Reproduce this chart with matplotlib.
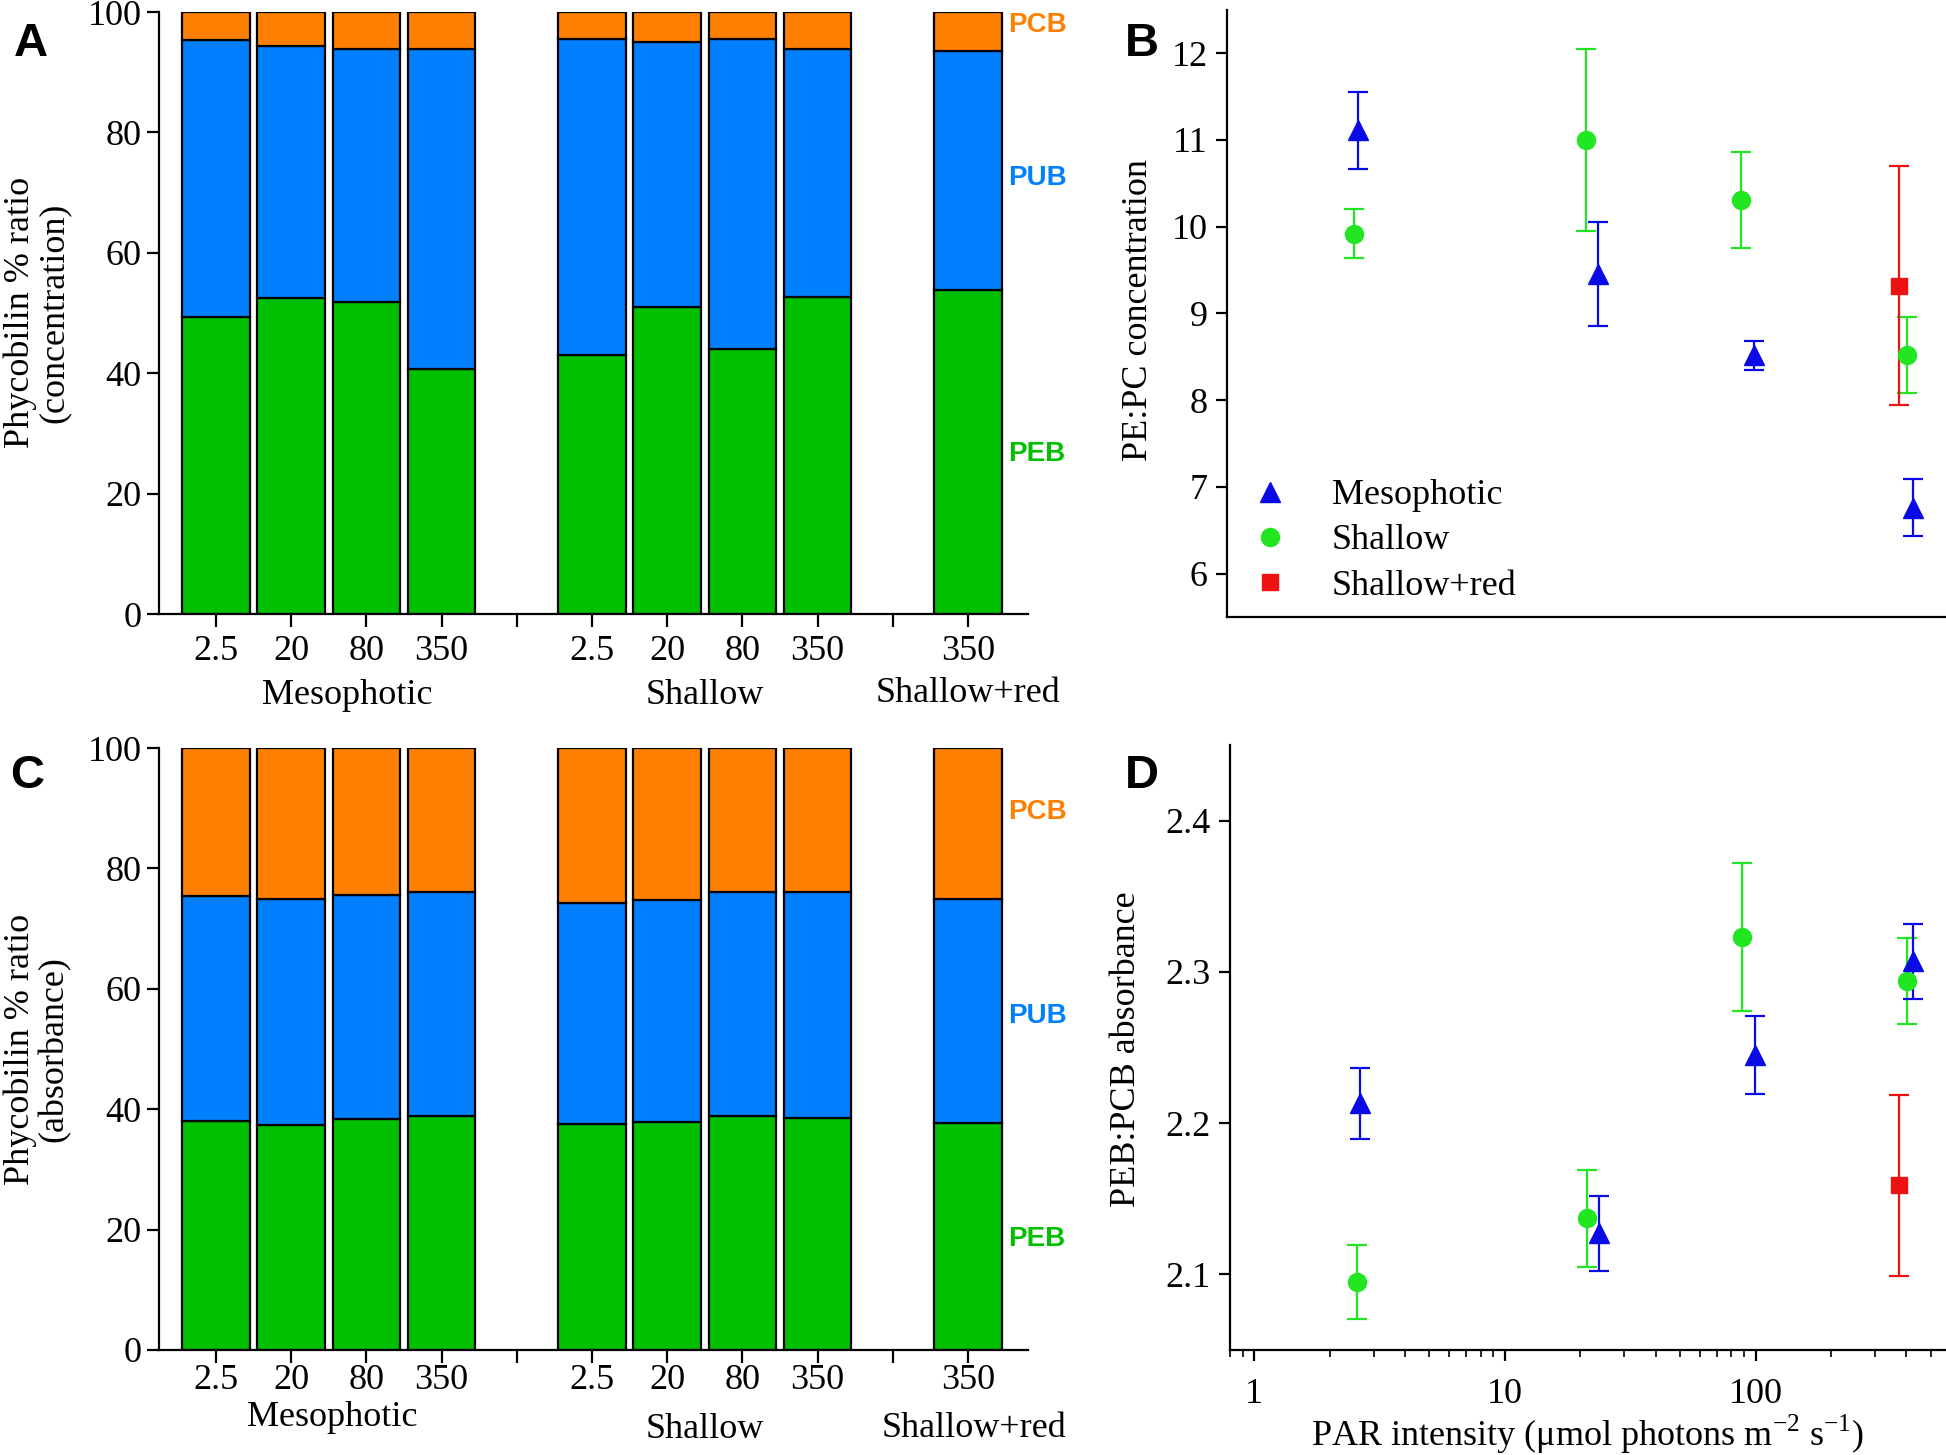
import matplotlib
matplotlib.use("Agg")
import matplotlib.pyplot as plt
import numpy as np

plt.rcParams['font.family'] = ['Liberation Serif', 'DejaVu Serif']
plt.rcParams['mathtext.fontset'] = 'custom'
plt.rcParams['mathtext.rm'] = 'Liberation Serif'

# bar panels: PEB, PUB, PCB percentages
bar_labels = ['2.5', '20', '80', '350', '2.5', '20', '80', '350', '350']
bar_pos = [0, 1, 2, 3, 5, 6, 7, 8, 10]
sep_pos = [4, 9]
groups = ['Mesophotic', 'Shallow', 'Shallow+red']

peb_conc = [49.3, 52.5, 51.9, 40.7, 43.0, 51.0, 44.1, 52.6, 53.9]
pub_conc = [46.1, 41.9, 41.9, 53.1, 52.5, 44.1, 51.4, 41.2, 39.6]
peb_abs = [38.0, 37.4, 38.4, 38.8, 37.5, 37.8, 38.8, 38.6, 37.7]
pub_abs = [37.4, 37.5, 37.2, 37.2, 36.8, 36.9, 37.3, 37.4, 37.2]

# scatter panels (x = PAR intensity, slightly offset per series)
meso_x = [2.65, 23.8, 99.5, 425]
shal_x = [2.56, 21.3, 87.9, 401]
red_x = [375]

meso_b = [11.11, 9.455, 8.515, 6.76]
meso_b_err = [0.44, 0.60, 0.17, 0.33]
shal_b = [9.92, 11.0, 10.31, 8.52]
shal_b_err = [0.28, 1.05, 0.55, 0.44]
red_b = [9.32]
red_b_err = [1.38]

meso_d = [2.213, 2.127, 2.245, 2.307]
meso_d_err = [0.0234, 0.0245, 0.0259, 0.0248]
shal_d = [2.095, 2.137, 2.323, 2.294]
shal_d_err = [0.0245, 0.0322, 0.0487, 0.0285]
red_d = [2.159]
red_d_err = [0.0598]

c_peb = '#00C000'
c_pub = '#0080FF'
c_pcb = '#FF8000'
c_meso = '#0A0AE6'
c_shal = '#22E622'
c_red = '#EE1111'

FS = 26

fig = plt.figure(figsize=(19.46, 14.55), dpi=100)
axA = fig.add_axes([0.0817, 0.578, 0.4466, 0.4137])
axC = fig.add_axes([0.0817, 0.0722, 0.4466, 0.4137])
axB = fig.add_axes([0.6305, 0.576, 0.3695, 0.4172])
axD = fig.add_axes([0.632, 0.0722, 0.368, 0.4158])


def bar_panel(ax, peb, pub, lab_y, grp_y, tpad):
    peb = np.array(peb)
    pub = np.array(pub)
    pcb = 100 - peb - pub
    kw = dict(width=0.9, edgecolor='black', linewidth=1.6)
    ax.bar(bar_pos, peb, color=c_peb, **kw)
    ax.bar(bar_pos, pub, bottom=peb, color=c_pub, **kw)
    ax.bar(bar_pos, pcb, bottom=peb + pub, color=c_pcb, **kw)
    ax.set_xlim(-0.76, 10.8)
    ax.set_ylim(0, 100)
    ax.set_yticks([0, 20, 40, 60, 80, 100])
    ax.set_xticks(bar_pos + sep_pos)
    ax.set_xticklabels(bar_labels + ['', ''])
    for s in ['top', 'right']:
        ax.spines[s].set_visible(False)
    for s in ['left', 'bottom']:
        ax.spines[s].set_linewidth(1.6)
    ax.tick_params(labelsize=FS, width=1.6, length=9)
    ax.tick_params(axis='x', pad=tpad)
    tr = ax.get_xaxis_transform()
    for (gx, gy), g in zip(grp_y, groups):
        ax.text(gx, gy, g, transform=tr, ha='center', va='center', fontsize=FS)
    for (ly, t, c) in zip(lab_y, ['PCB', 'PUB', 'PEB'], [c_pcb, c_pub, c_peb]):
        ax.text(10.92, ly, t, ha='center', va='center', color=c, fontsize=20,
                fontweight='bold', family='Liberation Sans')


bar_panel(axA, peb_conc, pub_conc, [97.9, 72.4, 26.6],
          [(1.75, -0.135), (6.5, -0.135), (10.0, -0.132)], 6)
bar_panel(axC, peb_abs, pub_abs, [89.3, 55.5, 18.4],
          [(1.55, -0.112), (6.5, -0.132), (10.08, -0.130)], 1)

ebkw = dict(linestyle='none', capsize=7, elinewidth=1.6, capthick=1.6)
for ax, mb, me, sb, se, rb, re_ in [(axB, meso_b, meso_b_err, shal_b, shal_b_err, red_b, red_b_err),
                                    (axD, meso_d, meso_d_err, shal_d, shal_d_err, red_d, red_d_err)]:
    ax.errorbar(shal_x, sb, yerr=se, marker='o', ms=13, color=c_shal, **ebkw)
    ax.errorbar(red_x, rb, yerr=re_, marker='s', ms=11, color=c_red, **ebkw)
    ax.errorbar(meso_x, mb, yerr=me, marker='^', ms=14, color=c_meso, **ebkw)
    ax.set_xscale('log')
    ax.set_xlim(0.8, 575)
    for s in ['top', 'right']:
        ax.spines[s].set_visible(False)
    for s in ['left', 'bottom']:
        ax.spines[s].set_linewidth(1.6)
    ax.tick_params(axis='y', labelsize=FS, width=1.6, length=8, pad=6)

axB.set_ylim(5.5, 12.5)
axB.set_yticks([6, 7, 8, 9, 10, 11, 12])
axB.tick_params(axis='x', which='both', bottom=False, labelbottom=False)

axD.set_ylim(2.05, 2.45)
axD.set_yticks([2.1, 2.2, 2.3, 2.4])
axD.set_xticks([1, 10, 100])
axD.set_xticklabels(['1', '10', '100'])
axD.tick_params(axis='x', which='major', labelsize=FS, width=1.6, length=8, pad=12)
axD.tick_params(axis='x', which='minor', width=1.2, length=5)

h1, = axB.plot([], [], '^', ms=14, color=c_meso)
h2, = axB.plot([], [], 'o', ms=13, color=c_shal)
h3, = axB.plot([], [], 's', ms=11, color=c_red)
axB.legend([h1, h2, h3], ['Mesophotic', 'Shallow', 'Shallow+red'], loc='lower left',
           bbox_to_anchor=(0.0, -0.018), frameon=False, fontsize=FS, handlelength=1.0,
           handletextpad=1.2, labelspacing=0.33, borderpad=0.2)

fig.text(0.019, 0.785, 'Phycobilin % ratio\n(concentration)', rotation=90, ha='center',
         va='center', fontsize=FS, linespacing=1.0)
fig.text(0.019, 0.279, 'Phycobilin % ratio\n(absorbance)', rotation=90, ha='center',
         va='center', fontsize=FS, linespacing=1.0)
fig.text(0.585, 0.787, 'PE:PC concentration', rotation=90, ha='center', va='center', fontsize=FS)
fig.text(0.579, 0.279, 'PEB:PCB absorbance', rotation=90, ha='center', va='center', fontsize=FS)
fig.text(0.816, 0.014, 'PAR intensity (μmol photons m$^{-2}$ s$^{-1}$)', ha='center',
         va='center', fontsize=FS)

for t, x, y in [('A', 0.016, 0.970), ('B', 0.587, 0.970), ('C', 0.014, 0.467), ('D', 0.587, 0.467)]:
    fig.text(x, y, t, ha='center', va='center', fontsize=34, fontweight='bold',
             family='Liberation Sans')

fig.savefig('out.png', dpi=100)
